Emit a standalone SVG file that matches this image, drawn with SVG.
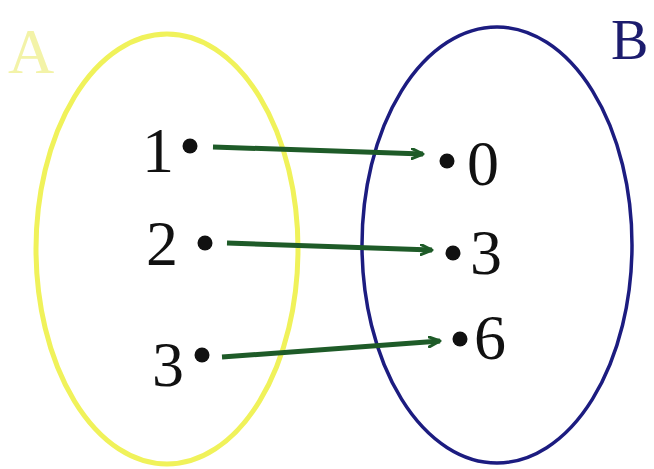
<svg xmlns="http://www.w3.org/2000/svg" width="654" height="469" viewBox="0 0 654 469">
<defs>
<marker id="ah" markerWidth="14" markerHeight="12" refX="12" refY="6" orient="auto" markerUnits="userSpaceOnUse">
<path d="M1,1 L12,6 L1,11" fill="none" stroke="#1e5b28" stroke-width="3" stroke-linecap="round" stroke-linejoin="round"/>
</marker>
</defs>
<style>
.t{font-family:"Liberation Serif","Times New Roman",serif;font-size:64px;fill:#111}
.dot{fill:#111}
.c{stroke:#1e5b28;stroke-width:5;fill:none}
</style>
<rect width="654" height="469" fill="#fff"/>
<g id="setA">
<ellipse cx="167" cy="249" rx="131" ry="215" fill="none" stroke="#f0f25a" stroke-width="5"/>
<text x="8" y="73" font-family="Liberation Serif, serif" font-size="64" fill="#f3f3a8">A</text>
</g>
<g id="setB">
<ellipse cx="497" cy="245" rx="135" ry="218" fill="none" stroke="#1c1c80" stroke-width="3.5"/>
<text x="611" y="59" font-family="Liberation Serif, serif" font-size="56" fill="#1c1c6e">B</text>
</g>
<g id="a1"><text class="t" x="142" y="172">1</text><circle class="dot" cx="190" cy="146" r="7.5"/></g>
<g id="a2"><text class="t" x="146" y="265">2</text><circle class="dot" cx="205" cy="243" r="7.5"/></g>
<g id="a3"><text class="t" x="152" y="386">3</text><circle class="dot" cx="202" cy="355" r="7.5"/></g>
<g id="b0"><circle class="dot" cx="447" cy="161" r="7.5"/><text class="t" x="467" y="185">0</text></g>
<g id="b3"><circle class="dot" cx="453" cy="253" r="7.5"/><text class="t" x="470" y="274">3</text></g>
<g id="b6"><circle class="dot" cx="460" cy="339" r="7.5"/><text class="t" x="474" y="359">6</text></g>
<g id="connectors">
<line class="c" x1="213" y1="147" x2="423" y2="154" marker-end="url(#ah)"/>
<line class="c" x1="227" y1="243" x2="432" y2="250" marker-end="url(#ah)"/>
<line class="c" x1="222" y1="357" x2="440" y2="341" marker-end="url(#ah)"/>
</g>
</svg>
